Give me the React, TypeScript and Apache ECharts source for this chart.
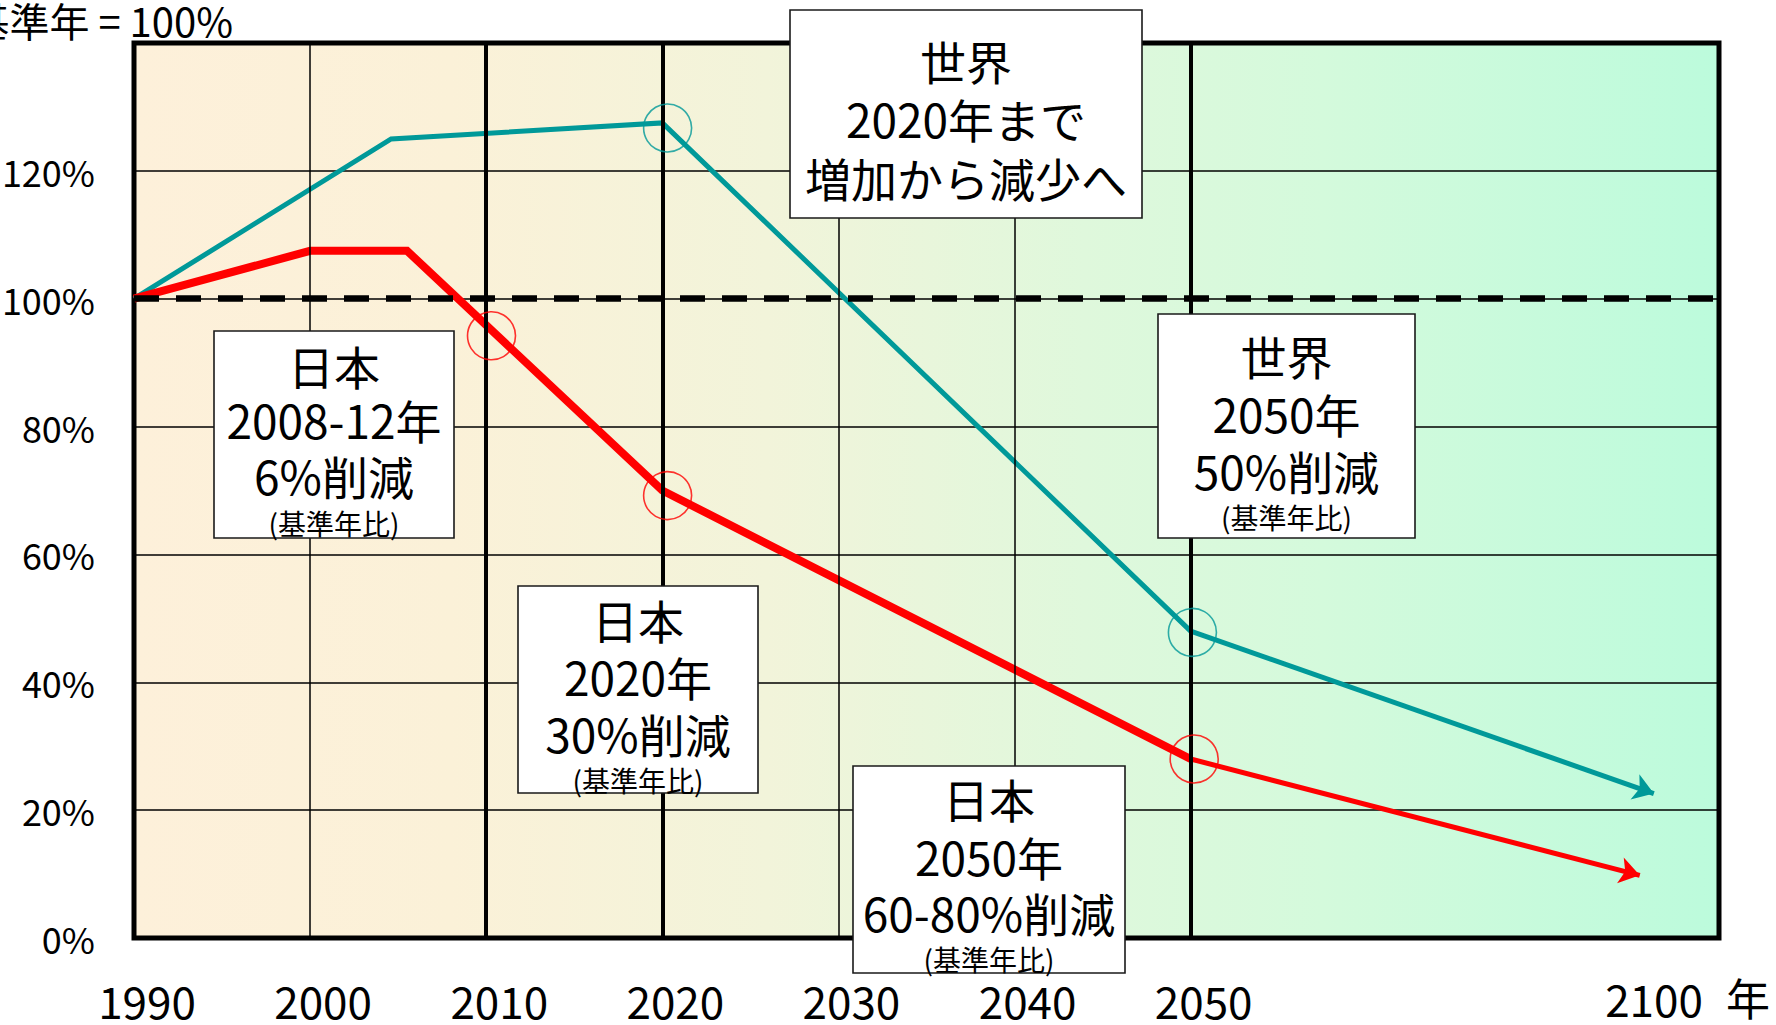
import React, { useEffect, useRef } from "react";
import * as echarts from "echarts";

// Axis ticks
const yearTicks = [1990, 2000, 2010, 2020, 2030, 2040, 2050];
const thinGridYears = [2000, 2030, 2040];
const boldGridYears = [2010, 2020, 2050];
const percentTicks = [0, 20, 40, 60, 80, 100, 120];
const baseLevel = 100;

// 世界 (world) emissions, base year = 100
const worldYears = [1990, 2004.6, 2020, 2050];
const worldValues = [100, 125, 127.5, 48];
const worldTailEnd = [2076.3, 22.6];

// 日本 (Japan) emissions, base year = 100
const japanYears = [1990, 2000, 2005.5, 2020, 2050];
const japanValues = [100, 107.5, 107.5, 70, 28];
const japanTailEnd = [2075.5, 9.8];

// Circled target points
const worldCircleYears = [2020.3, 2050.1];
const worldCircleValues = [126.7, 47.8];
const japanCircleYears = [2010.3, 2020.3, 2050.2];
const japanCircleValues = [94.2, 69.2, 28];

// Annotation texts
const noteWorld2020 = ["世界", "2020年まで", "増加から減少へ"];
const noteJapan2012 = ["日本", "2008-12年", "6%削減", "(基準年比)"];
const noteJapan2020 = ["日本", "2020年", "30%削減", "(基準年比)"];
const noteJapan2050 = ["日本", "2050年", "60-80%削減", "(基準年比)"];
const noteWorld2050 = ["世界", "2050年", "50%削減", "(基準年比)"];
const unitTitle = "基準年 = 100%";
const farYearLabel = "2100";
const yearUnit = "年";

const TEAL = "#009999";
const RED = "#FF0000";
const FONT =
  "'Liberation Sans Narrow', 'Arial Narrow', 'Noto Sans CJK JP', sans-serif";

type Box = {
  x: number;
  y: number;
  w: number;
  h: number;
  lineY: number[];
};

function noteBox(lines: string[], b: Box) {
  const cx = b.x + b.w / 2;
  const children: any[] = [
    {
      type: "rect",
      shape: { x: b.x, y: b.y, width: b.w, height: b.h },
      style: { fill: "#ffffff", stroke: "#1a1a1a", lineWidth: 1.6 },
      z: 100,
    },
  ];
  lines.forEach((t, i) => {
    const small = t.startsWith("(");
    children.push({
      type: "text",
      x: cx,
      y: b.lineY[i],
      z: 101,
      style: {
        text: t,
        fill: "#000",
        fontSize: small ? 28 : 46,
        fontFamily: FONT,
        align: "center",
        verticalAlign: "middle",
        textAlign: "center",
        textVerticalAlign: "middle",
      },
    });
  });
  return { type: "group", children };
}

export default function App() {
  const ref = useRef<HTMLDivElement>(null);

  useEffect(() => {
    if (!ref.current) return;
    const chart = echarts.init(ref.current, undefined, { renderer: "svg" });

    const worldMain = worldYears.map((y, i) => [y, worldValues[i]]);
    const japanMain = japanYears.map((y, i) => [y, japanValues[i]]);
    const worldLast = worldMain[worldMain.length - 1];
    const japanLast = japanMain[japanMain.length - 1];

    const option: any = {
      animation: false,
      grid: {
        left: 134,
        right: 57,
        top: 43,
        bottom: 87,
        containLabel: false,
        outerBoundsMode: "none",
        show: true,
        borderColor: "#000",
        borderWidth: 5,
        backgroundColor: new echarts.graphic.LinearGradient(0, 0, 1, 0, [
          { offset: 0, color: "#FDF0DA" },
          { offset: 0.2, color: "#FBF1D8" },
          { offset: 0.4, color: "#F2F4DA" },
          { offset: 0.6, color: "#DFF8DC" },
          { offset: 0.75, color: "#D4FADC" },
          { offset: 1, color: "#BCFBDC" },
        ]),
      },
      xAxis: {
        type: "value",
        min: 1990,
        max: 2080,
        interval: 10,
        axisLine: { show: false },
        axisTick: { show: false },
        splitLine: { show: false },
        axisLabel: {
          formatter: (v: number) => (yearTicks.includes(v) ? String(v) : ""),
          fontSize: 44,
          fontFamily: FONT,
          color: "#000",
          margin: 40,
          padding: [0, 0, 0, 26],
        },
      },
      yAxis: {
        type: "value",
        min: 0,
        max: 140,
        interval: 20,
        axisLine: { show: false },
        axisTick: { show: false },
        splitLine: { show: true, lineStyle: { color: "#000", width: 1.5 } },
        axisLabel: {
          formatter: (v: number) => (percentTicks.includes(v) ? `${v}%` : ""),
          fontSize: 36,
          fontFamily: FONT,
          color: "#000",
          margin: 39,
          padding: [6, 0, 0, 0],
        },
      },
      series: [
        {
          // vertical year grid
          type: "line",
          data: [],
          silent: true,
          z: 1,
          markLine: {
            silent: true,
            symbol: ["none", "none"],
            label: { show: false },
            lineStyle: { color: "#000", type: "solid" },
            data: [
              ...thinGridYears.map((x) => ({
                xAxis: x,
                lineStyle: { width: 1.5, color: "#000", type: "solid" },
              })),
              ...boldGridYears.map((x) => ({
                xAxis: x,
                lineStyle: { width: 4, color: "#000", type: "solid" },
              })),
            ],
          },
        },
        {
          // base year level
          type: "line",
          data: [],
          silent: true,
          z: 2,
          markLine: {
            silent: true,
            symbol: ["none", "none"],
            label: { show: false },
            data: [
              {
                yAxis: baseLevel,
                lineStyle: { width: 6.5, color: "#000", type: [25, 17] },
              },
            ],
          },
        },
        {
          name: "世界",
          type: "line",
          data: worldMain,
          showSymbol: false,
          symbol: "none",
          lineStyle: { color: TEAL, width: 5, join: "miter" },
          z: 3,
          silent: true,
        },
        {
          name: "日本",
          type: "line",
          data: japanMain,
          showSymbol: false,
          symbol: "none",
          lineStyle: { color: RED, width: 8, join: "miter" },
          z: 4,
          silent: true,
        },
        {
          type: "lines",
          coordinateSystem: "cartesian2d",
          symbol: ["none", "arrow"],
          symbolSize: 20,
          lineStyle: { color: TEAL, width: 5, opacity: 1, curveness: 0 },
          data: [{ coords: [worldLast, worldTailEnd] }],
          z: 3,
          silent: true,
        },
        {
          type: "lines",
          coordinateSystem: "cartesian2d",
          symbol: ["none", "arrow"],
          symbolSize: 20,
          lineStyle: { color: RED, width: 5, opacity: 1, curveness: 0 },
          data: [{ coords: [japanLast, japanTailEnd] }],
          z: 4,
          silent: true,
        },
        {
          type: "scatter",
          data: worldCircleYears.map((y, i) => [y, worldCircleValues[i]]),
          symbol: "circle",
          symbolSize: 48,
          itemStyle: {
            color: "rgba(0,0,0,0)",
            borderColor: TEAL,
            borderWidth: 1.6,
          },
          z: 5,
          silent: true,
        },
        {
          type: "scatter",
          data: japanCircleYears.map((y, i) => [y, japanCircleValues[i]]),
          symbol: "circle",
          symbolSize: 48,
          itemStyle: {
            color: "rgba(0,0,0,0)",
            borderColor: RED,
            borderWidth: 1.6,
          },
          z: 5,
          silent: true,
        },
      ],
      graphic: [
        {
          type: "text",
          x: 233,
          y: 20,
          z: 50,
          style: {
            text: unitTitle,
            fill: "#000",
            fontSize: 40,
            fontFamily: FONT,
            align: "right",
            verticalAlign: "middle",
            textAlign: "right",
            textVerticalAlign: "middle",
          },
        },
        {
          type: "text",
          x: 1654,
          y: 998,
          z: 50,
          style: {
            text: farYearLabel,
            fill: "#000",
            fontSize: 44,
            fontFamily: FONT,
            align: "center",
            verticalAlign: "middle",
            textAlign: "center",
            textVerticalAlign: "middle",
          },
        },
        {
          type: "text",
          x: 1748,
          y: 997,
          z: 50,
          style: {
            text: yearUnit,
            fill: "#000",
            fontSize: 44,
            fontFamily: FONT,
            align: "center",
            verticalAlign: "middle",
            textAlign: "center",
            textVerticalAlign: "middle",
          },
        },
        noteBox(noteWorld2020, {
          x: 790,
          y: 10,
          w: 352,
          h: 208,
          lineY: [60, 118, 177],
        }),
        noteBox(noteJapan2012, {
          x: 214,
          y: 331,
          w: 240,
          h: 207,
          lineY: [365, 419, 475, 523],
        }),
        noteBox(noteJapan2020, {
          x: 518,
          y: 586,
          w: 240,
          h: 207,
          lineY: [619, 676, 733, 780],
        }),
        noteBox(noteJapan2050, {
          x: 853,
          y: 766,
          w: 272,
          h: 207,
          lineY: [798, 856, 912, 959],
        }),
        noteBox(noteWorld2050, {
          x: 1158,
          y: 314,
          w: 257,
          h: 224,
          lineY: [355, 413, 470, 517],
        }),
      ],
    };

    chart.setOption(option);
    return () => chart.dispose();
  }, []);

  return (
    <div
      ref={ref}
      style={{
        position: "absolute",
        left: 0,
        top: 0,
        width: 1776,
        height: 1025,
        background: "#fff",
      }}
    />
  );
}
